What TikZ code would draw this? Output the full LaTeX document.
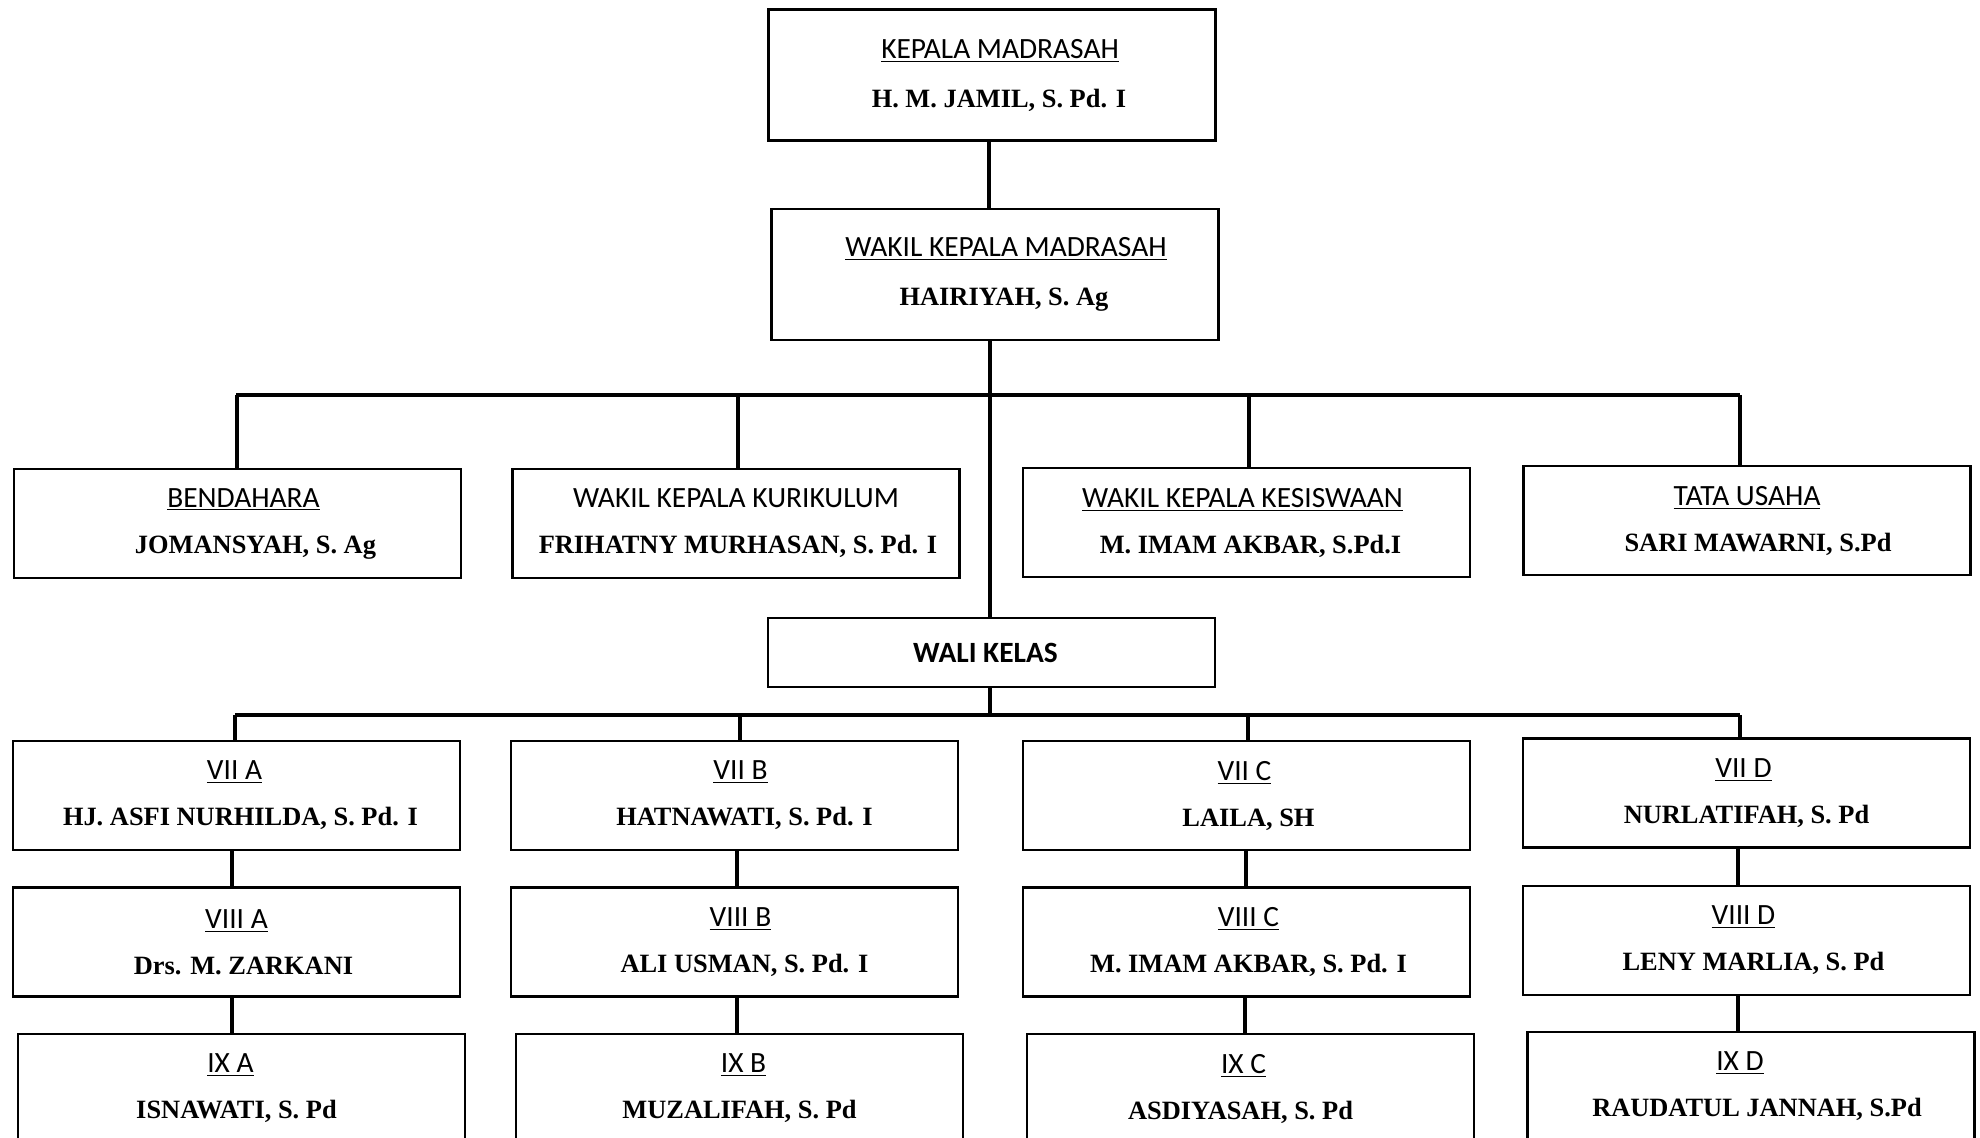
\documentclass[tikz,border=0pt]{standalone}
\usepackage{fontspec}
\newfontfamily\labfont{Carlito}
\newfontfamily\namfont{Liberation Serif}
\newcommand\lab[1]{{\labfont\fontsize{14.7}{23}\selectfont\underline{#1}}}
\newcommand\plab[1]{{\labfont\fontsize{14.7}{23}\selectfont #1}}
\newcommand\nam[1]{{\namfont\bfseries\fontsize{13.2}{23}\selectfont #1}}
\newcommand\Lsh[1]{\hspace*{#1pt}}
\begin{document}
\begin{tikzpicture}[x=0.5pt,y=-0.5pt,
  box/.style={draw, line width=1.2pt, inner sep=0pt, align=center,
    minimum width=223.5pt, minimum height=54.5pt, font=\fontsize{14}{23}\selectfont},
  bigbox/.style={box, minimum height=65.5pt, font=\fontsize{14}{24.5}\selectfont},
  thinbox/.style={box, minimum height=34.5pt},
  conn/.style={line width=2pt},
  busline/.style={line width=2pt}]
\useasboundingbox (0,0) rectangle (1980,1137);
\clip (0,0) rectangle (1980,1137);
\fill[white] (0,0) rectangle (1980,1137);

% top
\node[bigbox] (kepala) at (992,75) {\Lsh{8}\lab{KEPALA MADRASAH}\\\Lsh{7}\nam{H. M. JAMIL, S. Pd. I}};
\node[bigbox] (wakil) at (995,274.5) {\Lsh{11}\lab{WAKIL KEPALA MADRASAH}\\\Lsh{9}\nam{HAIRIYAH, S. Ag}};

% second row
\node[box] (bend) at (237.5,523.5) {\Lsh{6}\lab{BENDAHARA}\\\Lsh{18}\nam{JOMANSYAH, S. Ag}};
\node[box] (kur) at (736,523.5) {\plab{WAKIL KEPALA KURIKULUM}\\\Lsh{2}\nam{FRIHATNY MURHASAN, S. Pd. I}};
\node[box] (kes) at (1246.5,522.5) {\lab{WAKIL KEPALA KESISWAAN}\Lsh{4}\\\Lsh{4}\nam{M. IMAM AKBAR, S.Pd.I}};
\node[box] (tu) at (1747,520.5) {\lab{TATA USAHA}\\\Lsh{11}\nam{SARI MAWARNI, S.Pd}};

% wali kelas
\node[thinbox] (wali) at (991.5,652.5) {{\labfont\bfseries\fontsize{14.7}{18}\selectfont WALI KELAS}\Lsh{6}};

% classes
\node[box] (a7) at (236.5,795.5) {\lab{VII A}\Lsh{2}\\\Lsh{4}\nam{HJ. ASFI NURHILDA, S. Pd. I}};
\node[box] (b7) at (734.5,795.5) {\Lsh{6}\lab{VII B}\\\Lsh{10}\nam{HATNAWATI, S. Pd. I}};
\node[box] (c7) at (1246.5,795.5) {\lab{VII C}\Lsh{2}\\\Lsh{2}\nam{LAILA, SH}};
\node[box] (d7) at (1746.5,793) {\lab{VII D}\Lsh{3}\\\nam{NURLATIFAH, S. Pd}};

\node[box] (a8) at (236.5,942) {\lab{VIII A}\\\Lsh{7}\nam{Drs. M. ZARKANI}};
\node[box] (b8) at (734.5,942) {\Lsh{6}\lab{VIII B}\\\Lsh{10}\nam{ALI USMAN, S. Pd. I}};
\node[box] (c8) at (1246.5,942) {\Lsh{2}\lab{VIII C}\\\Lsh{2}\nam{M. IMAM AKBAR, S. Pd. I}};
\node[box] (d8) at (1746.5,940.5) {\lab{VIII D}\Lsh{3}\\\Lsh{7}\nam{LENY MARLIA, S. Pd}};

\node[box] (a9) at (241.5,1088.5) {\lab{IX A}\Lsh{11}\\\nam{ISNAWATI, S. Pd}\Lsh{5}};
\node[box] (b9) at (739.5,1088.5) {\Lsh{4}\lab{IX B}\\\nam{MUZALIFAH, S. Pd}};
\node[box] (c9) at (1250.5,1088.5) {\lab{IX C}\Lsh{7}\\\nam{ASDIYASAH, S. Pd}\Lsh{10}};
\node[box] (d9) at (1751,1086.5) {\lab{IX D}\Lsh{11}\\\Lsh{6}\nam{RAUDATUL JANNAH, S.Pd}};

% bus coordinates
\coordinate (bus1) at (990,395);
\coordinate (bus2) at (990,715);

% connectors
\draw[conn] (kepala.south -| 989,0) -- (wakil.north -| 989,0);
\draw[conn] (wakil.south -| 990,0) -- (wali.north -| 990,0);
\draw[busline] (bus1 -| 236,0) -- (bus1 -| 1740,0);
\draw[conn] (bus1 -| 237,0) -- (bend.north -| 237,0);
\draw[conn] (bus1 -| 738,0) -- (kur.north -| 738,0);
\draw[conn] (bus1 -| 1249,0) -- (kes.north -| 1249,0);
\draw[conn] (bus1 -| 1740,0) -- (tu.north -| 1740,0);

\draw[conn] (wali.south -| 990,0) -- (bus2);
\draw[busline] (bus2 -| 235,0) -- (bus2 -| 1740,0);
\draw[conn] (bus2 -| 235,0) -- (a7.north -| 235,0);
\draw[conn] (bus2 -| 740,0) -- (b7.north -| 740,0);
\draw[conn] (bus2 -| 1248,0) -- (c7.north -| 1248,0);
\draw[conn] (bus2 -| 1740,0) -- (d7.north -| 1740,0);

\draw[conn] (a7.south -| 232,0) -- (a8.north -| 232,0);
\draw[conn] (b7.south -| 737,0) -- (b8.north -| 737,0);
\draw[conn] (c7.south -| 1246,0) -- (c8.north -| 1246,0);
\draw[conn] (d7.south -| 1738,0) -- (d8.north -| 1738,0);

\draw[conn] (a8.south -| 232,0) -- (a9.north -| 232,0);
\draw[conn] (b8.south -| 737,0) -- (b9.north -| 737,0);
\draw[conn] (c8.south -| 1245,0) -- (c9.north -| 1245,0);
\draw[conn] (d8.south -| 1738,0) -- (d9.north -| 1738,0);
\end{tikzpicture}
\end{document}
